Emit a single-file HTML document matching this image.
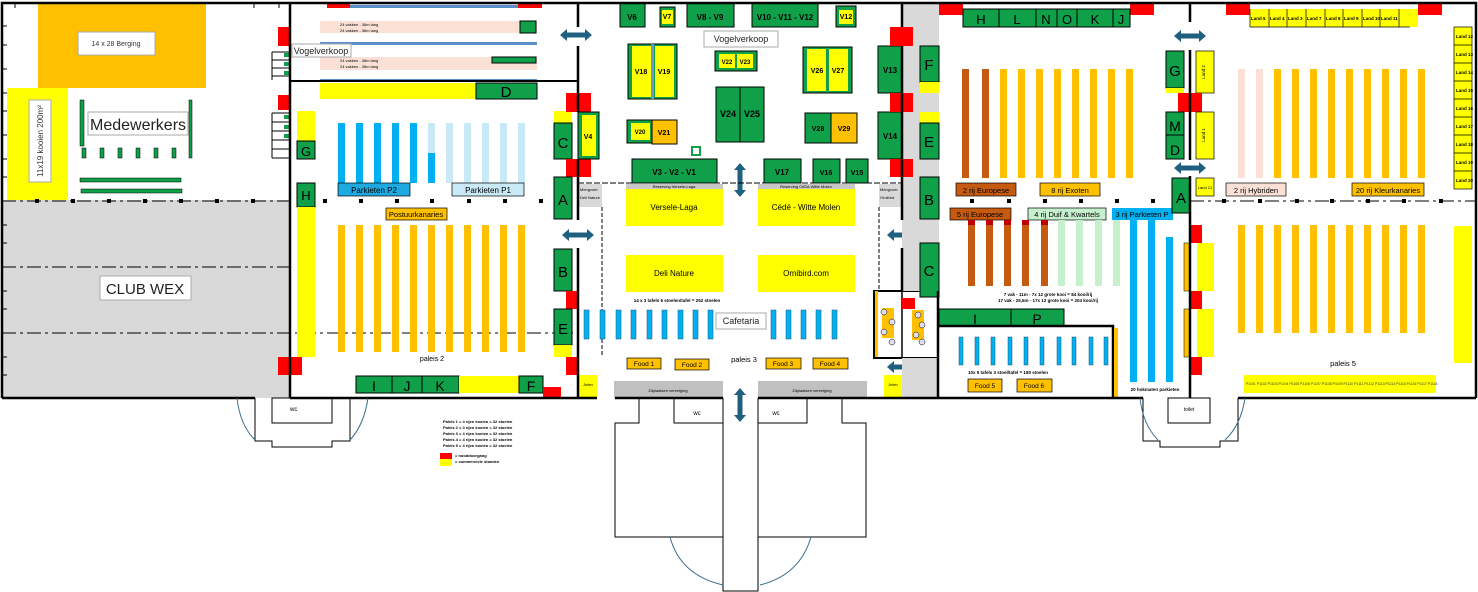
<!DOCTYPE html>
<html><head><meta charset="utf-8"><style>
html,body{margin:0;padding:0;background:#fff;width:1478px;height:592px;overflow:hidden}
svg{display:block}
text{font-family:"Liberation Sans",sans-serif}
.g{fill:#10a04a;stroke:#000;stroke-width:1}
.y{fill:#ffff00}
.o{fill:#ffc000}
.r{fill:#ff0000}
.w{fill:none;stroke:#000;stroke-width:2.5}
.t{fill:none;stroke:#000;stroke-width:1}
.lb{fill:#fff;stroke:#aaa;stroke-width:1}
</style></head><body>
<svg width="1478" height="592" viewBox="0 0 1478 592" xmlns="http://www.w3.org/2000/svg">
<defs>
<polygon id="ah" points="-16,0 -9,-6 -9,-2.5 9,-2.5 9,-6 16,0 9,6 9,2.5 -9,2.5 -9,6" fill="#1f5f7f"/>
<polygon id="av" points="0,-17 -6,-10 -2.5,-10 -2.5,10 -6,10 0,17 6,10 2.5,10 2.5,-10 6,-10" fill="#1f5f7f"/>
</defs>

<!-- LEFT AREA -->
<rect x="38" y="3" width="168" height="85" class="o"/>
<rect x="78" y="32" width="77" height="23" fill="#fff" stroke="#aaa"/>
<text x="116" y="46" font-size="7" text-anchor="middle" fill="#333">14 x 28 Berging</text>
<rect x="7" y="88" width="61" height="112" class="y"/>
<rect x="29" y="100" width="22" height="82" fill="#fff" stroke="#aaa"/>
<text x="43" y="141" font-size="8" text-anchor="middle" transform="rotate(-90 43 141)" fill="#333">11x19  kooien 200m²</text>
<rect x="88" y="112" width="100" height="23" fill="#fff" stroke="#aaa"/>
<text x="138" y="130" font-size="16" text-anchor="middle" fill="#222">Medewerkers</text>
<g fill="#10a04a" stroke="#000" stroke-width=".5">
<rect x="80" y="100" width="4" height="46"/><rect x="189" y="100" width="3" height="58"/>
<rect x="82" y="148" width="4" height="10"/><rect x="100" y="148" width="4" height="10"/><rect x="118" y="148" width="4" height="10"/><rect x="136" y="148" width="4" height="10"/><rect x="154" y="148" width="4" height="10"/><rect x="172" y="148" width="4" height="10"/>
<rect x="80" y="178" width="101" height="4"/><rect x="81" y="189" width="101" height="4"/>
</g>
<rect x="2" y="200" width="288" height="198" fill="#d9d9d9"/>
<rect x="100" y="276" width="91" height="24" fill="#fff" stroke="#aaa"/>
<text x="145" y="294" font-size="15" text-anchor="middle" fill="#222">CLUB WEX</text>
<g stroke="#000" stroke-width="1" stroke-dasharray="14,4,3,4">
<line x1="2" y1="201" x2="290" y2="201"/><line x1="2" y1="267" x2="290" y2="267"/><line x1="2" y1="333" x2="578" y2="333"/>
<line x1="1190" y1="201" x2="1476" y2="201"/>
</g>
<g fill="#000">
<rect x="35" y="199" width="4" height="4"/><rect x="71" y="199" width="4" height="4"/><rect x="107" y="199" width="4" height="4"/><rect x="143" y="199" width="4" height="4"/><rect x="179" y="199" width="4" height="4"/><rect x="215" y="199" width="4" height="4"/><rect x="251" y="199" width="4" height="4"/>
<rect x="323" y="199" width="4" height="4"/><rect x="359" y="199" width="4" height="4"/><rect x="395" y="199" width="4" height="4"/><rect x="430" y="199" width="4" height="4"/><rect x="467" y="199" width="4" height="4"/><rect x="503" y="199" width="4" height="4"/><rect x="539" y="199" width="4" height="4"/>
<rect x="970" y="199" width="4" height="4"/><rect x="1007" y="199" width="4" height="4"/><rect x="1043" y="199" width="4" height="4"/><rect x="1079" y="199" width="4" height="4"/><rect x="1115" y="199" width="4" height="4"/><rect x="1151" y="199" width="4" height="4"/>
<rect x="1222" y="199" width="4" height="4"/><rect x="1258" y="199" width="4" height="4"/><rect x="1295" y="199" width="4" height="4"/><rect x="1330" y="199" width="4" height="4"/><rect x="1366" y="199" width="4" height="4"/><rect x="1402" y="199" width="4" height="4"/><rect x="1439" y="199" width="4" height="4"/>
</g>
<g stroke="#000" stroke-width="1">
<line x1="2" y1="26" x2="7" y2="26"/><line x1="2" y1="45" x2="7" y2="45"/><line x1="2" y1="69" x2="7" y2="69"/><line x1="2" y1="93" x2="7" y2="93"/><line x1="2" y1="111" x2="7" y2="111"/><line x1="2" y1="135" x2="7" y2="135"/><line x1="2" y1="159" x2="7" y2="159"/><line x1="2" y1="177" x2="7" y2="177"/><line x1="2" y1="225" x2="7" y2="225"/><line x1="2" y1="243" x2="7" y2="243"/><line x1="2" y1="291" x2="7" y2="291"/><line x1="2" y1="309" x2="7" y2="309"/><line x1="2" y1="357" x2="7" y2="357"/><line x1="2" y1="375" x2="7" y2="375"/>
<line x1="15" y1="3" x2="15" y2="8"/><line x1="254" y1="3" x2="254" y2="8"/><line x1="279" y1="3" x2="279" y2="8"/>
</g>

<!-- PALACE 2 -->
<rect x="327" y="3" width="23" height="5" class="r"/><rect x="518" y="3" width="24" height="5" class="r"/>
<rect x="350" y="5" width="168" height="3" fill="#5b8fc7"/>
<rect x="320" y="21" width="217" height="12" fill="#fbe0d6"/>
<rect x="320" y="57" width="217" height="13" fill="#fbe0d6"/>
<rect x="320" y="42" width="217" height="3" fill="#5b8fc7"/>
<rect x="320" y="79" width="217" height="3" fill="#5b8fc7"/>
<g font-size="4" fill="#000"><text x="340" y="26">24 vakken - 36m lang</text><text x="340" y="32">24 vakken - 36m lang</text><text x="340" y="62">24 vakken - 36m lang</text><text x="340" y="68">24 vakken - 36m lang</text></g>
<rect x="520" y="21" width="16" height="12" class="g" stroke-width=".5"/>
<rect x="492" y="57" width="44" height="6" class="g" stroke-width=".5"/>
<line x1="290" y1="81" x2="578" y2="81" stroke="#000" stroke-width="2"/>
<rect x="320" y="83" width="156" height="16" class="y"/>
<rect x="476" y="83" width="61" height="16" class="g"/>
<text x="506" y="97" font-size="15" text-anchor="middle">D</text>
<rect x="292" y="44" width="59" height="13" fill="#fff" stroke="#aaa"/>
<text x="321" y="54" font-size="9" text-anchor="middle" fill="#222">Vogelverkoop</text>
<rect x="278" y="27" width="13" height="19" class="r"/><rect x="278" y="95" width="13" height="15" class="r"/>
<g class="t" stroke-width="2">
<path d="M272,52 h18 M272,52 v28 M272,60 h18 M272,68 h18 M272,76 h18"/>
<path d="M272,113 h18 M272,113 v45 M272,122 h18 M272,131 h18 M272,140 h18 M272,149 h18 M272,158 h18"/>
</g>
<g fill="#10a04a"><rect x="284" y="53" width="5" height="4"/><rect x="284" y="62" width="5" height="4"/><rect x="284" y="71" width="5" height="4"/><rect x="284" y="115" width="5" height="4"/><rect x="284" y="125" width="5" height="4"/><rect x="284" y="134" width="5" height="4"/></g>
<rect x="297" y="111" width="18" height="30" class="y"/>
<rect x="297" y="141" width="18" height="18" class="g"/><text x="306" y="156" font-size="13" text-anchor="middle">G</text>
<rect x="297" y="183" width="18" height="24" class="g"/><text x="306" y="200" font-size="13" text-anchor="middle">H</text>
<rect x="297" y="207" width="18" height="150" class="y"/>
<g fill="#00b0f0"><rect x="338" y="123" width="7" height="60"/><rect x="356" y="123" width="7" height="60"/><rect x="374" y="123" width="7" height="60"/><rect x="392" y="123" width="7" height="60"/><rect x="410" y="123" width="7" height="60"/></g>
<g fill="#c9e9f6"><rect x="428" y="123" width="7" height="30"/><rect x="446" y="123" width="7" height="60"/><rect x="464" y="123" width="7" height="60"/><rect x="482" y="123" width="7" height="60"/><rect x="500" y="123" width="7" height="60"/><rect x="518" y="123" width="7" height="60"/></g>
<rect x="428" y="153" width="7" height="30" fill="#00b0f0"/>
<rect x="338" y="183" width="72" height="13" fill="#1fa9e1" stroke="#000" stroke-width=".7"/><text x="374" y="193" font-size="8" text-anchor="middle">Parkieten P2</text>
<rect x="452" y="183" width="72" height="13" fill="#c9e9f6" stroke="#000" stroke-width=".7"/><text x="488" y="193" font-size="8" text-anchor="middle">Parkieten P1</text>
<rect x="386" y="208" width="61" height="12" class="o" stroke="#000" stroke-width=".7"/><text x="416" y="217" font-size="7.5" text-anchor="middle">Postuurkanaries</text>
<g class="o"><rect x="338" y="225" width="7" height="127"/><rect x="356" y="225" width="7" height="127"/><rect x="374" y="225" width="7" height="127"/><rect x="392" y="225" width="7" height="127"/><rect x="410" y="225" width="7" height="127"/><rect x="428" y="225" width="7" height="127"/><rect x="446" y="225" width="7" height="127"/><rect x="464" y="225" width="7" height="127"/><rect x="482" y="225" width="7" height="127"/><rect x="500" y="225" width="7" height="127"/><rect x="518" y="225" width="7" height="127"/></g>
<text x="432" y="361" font-size="7" text-anchor="middle">paleis 2</text>
<rect x="278" y="357" width="24" height="18" class="r"/>
<rect x="356" y="376" width="103" height="17" class="g"/>
<line x1="392" y1="376" x2="392" y2="393" stroke="#000"/><line x1="422" y1="376" x2="422" y2="393" stroke="#000"/>
<g font-size="14" text-anchor="middle"><text x="374" y="391">I</text><text x="407" y="391">J</text><text x="440" y="391">K</text></g>
<rect x="459" y="376" width="60" height="17" class="y"/>
<rect x="519" y="376" width="24" height="17" class="g"/><text x="531" y="391" font-size="14" text-anchor="middle">F</text>
<rect x="543" y="387" width="18" height="11" class="r"/>

<!-- palace2 right wall items -->
<rect x="554" y="111" width="18" height="12" class="y"/>
<rect x="554" y="123" width="18" height="36" class="g"/><text x="563" y="148" font-size="15" text-anchor="middle">C</text>
<rect x="566" y="93" width="25" height="19" class="r"/><rect x="566" y="159" width="25" height="18" class="r"/>
<rect x="578" y="112" width="21" height="47" class="g"/><rect x="582" y="115" width="14" height="41" class="y"/><text x="588" y="139" font-size="7" text-anchor="middle" font-weight="bold">V4</text>
<rect x="554" y="177" width="18" height="42" class="g"/><text x="563" y="205" font-size="15" text-anchor="middle">A</text>
<rect x="554" y="249" width="18" height="42" class="g"/><text x="563" y="277" font-size="15" text-anchor="middle">B</text>
<rect x="566" y="291" width="13" height="18" class="r"/>
<rect x="554" y="309" width="18" height="36" class="g"/><text x="563" y="334" font-size="15" text-anchor="middle">E</text>
<rect x="554" y="345" width="18" height="12" class="y"/>
<rect x="566" y="357" width="13" height="18" class="r"/>
<use href="#ah" x="576" y="35"/><use href="#ah" x="578" y="235"/>

<!-- PALACE 3 -->
<rect x="620" y="3" width="25" height="24" class="g"/><text x="632" y="20" font-size="8" text-anchor="middle" font-weight="bold">V6</text>
<rect x="660" y="7" width="15" height="20" class="g"/><rect x="662" y="10" width="11" height="14" class="y"/><text x="667" y="19" font-size="7" text-anchor="middle" font-weight="bold">V7</text>
<rect x="687" y="3" width="47" height="24" class="g"/><text x="710" y="20" font-size="8" text-anchor="middle" font-weight="bold">V8 - V9</text>
<rect x="752" y="3" width="66" height="24" class="g"/><text x="785" y="20" font-size="8" text-anchor="middle" font-weight="bold">V10 - V11 - V12</text>
<rect x="836" y="6" width="20" height="21" class="g"/><rect x="839" y="10" width="14" height="14" class="y"/><text x="846" y="19" font-size="7" text-anchor="middle" font-weight="bold">V12</text>
<rect x="704" y="31" width="74" height="16" fill="#fff" stroke="#aaa"/><text x="741" y="42" font-size="9" text-anchor="middle" fill="#222">Vogelverkoop</text>
<rect x="628" y="44" width="49" height="55" class="g"/><rect x="632" y="46" width="19" height="51" class="y"/><rect x="655" y="46" width="19" height="51" class="y"/><rect x="651" y="44" width="3" height="55" fill="#6a96c8"/>
<text x="641" y="74" font-size="7" text-anchor="middle" font-weight="bold">V18</text><text x="664" y="74" font-size="7" text-anchor="middle" font-weight="bold">V19</text>
<rect x="715" y="51" width="42" height="20" class="g"/><rect x="719" y="54" width="16" height="14" class="y"/><rect x="737" y="54" width="16" height="14" class="y"/>
<text x="727" y="64" font-size="6" text-anchor="middle" font-weight="bold">V22</text><text x="745" y="64" font-size="6" text-anchor="middle" font-weight="bold">V23</text>
<rect x="803" y="47" width="49" height="46" class="g"/><rect x="807" y="49" width="19" height="42" class="y"/><rect x="829" y="49" width="19" height="42" class="y"/>
<text x="817" y="73" font-size="7" text-anchor="middle" font-weight="bold">V26</text><text x="838" y="73" font-size="7" text-anchor="middle" font-weight="bold">V27</text>
<rect x="716" y="87" width="24" height="55" class="g"/><rect x="740" y="87" width="24" height="55" class="g"/>
<text x="728" y="117" font-size="9" text-anchor="middle" font-weight="bold">V24</text><text x="752" y="117" font-size="9" text-anchor="middle" font-weight="bold">V25</text>
<rect x="627" y="120" width="25" height="23" class="g"/><rect x="631" y="123" width="19" height="17" class="y"/><text x="640" y="134" font-size="6" text-anchor="middle" font-weight="bold">V20</text>
<rect x="652" y="120" width="25" height="24" class="o" stroke="#000"/><text x="664" y="135" font-size="7" text-anchor="middle" font-weight="bold">V21</text>
<rect x="805" y="113" width="26" height="30" class="g"/><text x="818" y="131" font-size="7" text-anchor="middle" font-weight="bold">V28</text>
<rect x="831" y="113" width="26" height="30" class="o" stroke="#000"/><text x="844" y="131" font-size="7" text-anchor="middle" font-weight="bold">V29</text>
<rect x="692" y="147" width="8" height="8" fill="none" stroke="#10a04a" stroke-width="2"/>
<rect x="878" y="46" width="24" height="47" class="g"/><text x="890" y="73" font-size="8" text-anchor="middle" font-weight="bold">V13</text>
<rect x="878" y="112" width="24" height="47" class="g"/><text x="890" y="139" font-size="8" text-anchor="middle" font-weight="bold">V14</text>
<rect x="632" y="159" width="85" height="24" class="g"/><text x="674" y="175" font-size="8" text-anchor="middle" font-weight="bold">V3 - V2 - V1</text>
<rect x="764" y="159" width="37" height="24" class="g"/><text x="782" y="175" font-size="8" text-anchor="middle" font-weight="bold">V17</text>
<rect x="813" y="159" width="27" height="24" class="g"/><text x="826" y="175" font-size="7" text-anchor="middle" font-weight="bold">V16</text>
<rect x="846" y="159" width="22" height="24" class="g"/><text x="857" y="175" font-size="7" text-anchor="middle" font-weight="bold">V15</text>
<use href="#av" x="740" y="180"/>
<line x1="578" y1="183" x2="902" y2="183" stroke="#000" stroke-width="1" stroke-dasharray="6,2"/>
<rect x="626" y="184" width="97" height="5" fill="#c8c8c8"/><rect x="758" y="184" width="97" height="5" fill="#c8c8c8"/>
<text x="674" y="188" font-size="4" text-anchor="middle">Reserving Versele-Laga</text><text x="806" y="188" font-size="4" text-anchor="middle">Reserving CéDé-Witte Molen</text>
<rect x="626" y="189" width="97" height="37" class="y"/><text x="674" y="210" font-size="8" text-anchor="middle">Versele-Laga</text>
<rect x="758" y="189" width="97" height="37" class="y"/><text x="806" y="210" font-size="8" text-anchor="middle">Cédé - Witte Molen</text>
<rect x="626" y="255" width="97" height="37" class="y"/><text x="674" y="276" font-size="8" text-anchor="middle">Deli Nature</text>
<rect x="758" y="255" width="97" height="37" class="y"/><text x="806" y="276" font-size="8" text-anchor="middle">Ornibird.com</text>
<rect x="578" y="184" width="24" height="23" fill="#d9d9d9"/><text x="580" y="191" font-size="4">Mengvoer</text><text x="580" y="199" font-size="4">Deli Nature</text>
<rect x="879" y="184" width="23" height="23" fill="#d9d9d9"/><text x="880" y="191" font-size="4">Mengvoer</text><text x="880" y="199" font-size="4">Ornibird</text>
<g stroke="#000" stroke-dasharray="4,2"><line x1="602" y1="207" x2="602" y2="357"/><line x1="879" y1="207" x2="879" y2="290"/></g>
<use href="#ah" x="903" y="235"/>
<text x="677" y="302" font-size="4.5" text-anchor="middle" font-weight="bold">14 x 3 tafels 6 stoelen/tafel = 252 stoelen</text>
<g fill="#00b0f0" stroke="#1f4e79" stroke-width=".5"><rect x="584" y="310" width="5" height="29"/><rect x="600" y="310" width="5" height="29"/><rect x="616" y="310" width="5" height="29"/><rect x="631" y="310" width="5" height="29"/><rect x="647" y="310" width="5" height="29"/><rect x="662" y="310" width="5" height="29"/><rect x="678" y="310" width="5" height="29"/><rect x="693" y="310" width="5" height="29"/><rect x="708" y="310" width="5" height="29"/><rect x="771" y="310" width="5" height="29"/><rect x="786" y="310" width="5" height="29"/><rect x="801" y="310" width="5" height="29"/><rect x="816" y="310" width="5" height="29"/><rect x="832" y="310" width="5" height="29"/></g>
<rect x="716" y="313" width="50" height="16" fill="#fff" stroke="#aaa"/><text x="741" y="324" font-size="9" text-anchor="middle" fill="#222">Cafetaria</text>
<text x="744" y="362" font-size="7.5" text-anchor="middle">paleis 3</text>
<g stroke="#000" stroke-width=".7" class="o"><rect x="627" y="358" width="34" height="11"/><rect x="675" y="359" width="34" height="11"/><rect x="766" y="358" width="35" height="11"/><rect x="813" y="358" width="35" height="11"/></g>
<g font-size="6.5" text-anchor="middle"><text x="644" y="366">Food 1</text><text x="692" y="367">Food 2</text><text x="783" y="366">Food 3</text><text x="830" y="366">Food 4</text></g>
<rect x="614" y="381" width="109" height="17" fill="#c0c0c0"/><rect x="758" y="381" width="109" height="17" fill="#c0c0c0"/>
<text x="668" y="392" font-size="4" text-anchor="middle">Zitplaatsen vereniging</text><text x="812" y="392" font-size="4" text-anchor="middle">Zitplaatsen vereniging</text>
<rect x="579" y="375" width="18" height="23" class="y"/><text x="588" y="386" font-size="4" text-anchor="middle">Jelen</text>
<rect x="884" y="375" width="18" height="23" class="y"/><text x="893" y="386" font-size="4" text-anchor="middle">Jelen</text>
<use href="#ah" x="903" y="367"/>
<!-- cafe box -->
<rect x="874" y="291" width="64" height="67" fill="#fff" stroke="#000" stroke-width="2"/>
<line x1="902" y1="291" x2="902" y2="358" stroke="#000" stroke-width="1.5"/>
<rect x="875" y="291" width="3" height="66" class="o"/>
<g class="o"><rect x="882" y="308" width="12" height="30"/><rect x="912" y="310" width="12" height="30"/></g>
<g fill="#dde" stroke="#000" stroke-width=".5"><circle cx="884" cy="312" r="3"/><circle cx="892" cy="322" r="3"/><circle cx="884" cy="332" r="3"/><circle cx="892" cy="342" r="3"/><circle cx="918" cy="315" r="3"/><circle cx="922" cy="325" r="3"/><circle cx="916" cy="335" r="3"/><circle cx="922" cy="342" r="3"/></g>
<rect x="902" y="298" width="13" height="11" class="r"/>

<!-- gray corridor palace3/4 -->
<rect x="902" y="3" width="37" height="288" fill="#d9d9d9"/>
<rect x="902" y="358" width="37" height="40" fill="#d9d9d9"/>
<rect x="890" y="27" width="23" height="19" class="r"/><rect x="890" y="93" width="23" height="19" class="r"/><rect x="890" y="159" width="23" height="18" class="r"/>
<rect x="920" y="46" width="19" height="36" class="g"/><text x="929" y="70" font-size="15" text-anchor="middle">F</text>
<rect x="920" y="82" width="19" height="11" class="y"/><rect x="920" y="112" width="19" height="11" class="y"/>
<rect x="920" y="123" width="19" height="36" class="g"/><text x="929" y="147" font-size="15" text-anchor="middle">E</text>
<rect x="920" y="177" width="19" height="42" class="g"/><text x="929" y="205" font-size="15" text-anchor="middle">B</text>
<rect x="920" y="243" width="19" height="54" class="g"/><text x="929" y="276" font-size="15" text-anchor="middle">C</text>

<!-- PALACE 4 -->
<rect x="939" y="3" width="24" height="12" class="r"/><rect x="1130" y="3" width="24" height="12" class="r"/>
<rect x="963" y="9" width="167" height="18" class="g"/>
<g stroke="#000"><line x1="999" y1="9" x2="999" y2="27"/><line x1="1036" y1="9" x2="1036" y2="27"/><line x1="1057" y1="9" x2="1057" y2="27"/><line x1="1077" y1="9" x2="1077" y2="27"/><line x1="1113" y1="9" x2="1113" y2="27"/></g>
<g font-size="13" text-anchor="middle"><text x="981" y="24">H</text><text x="1017" y="24">L</text><text x="1046" y="24">N</text><text x="1067" y="24">O</text><text x="1095" y="24">K</text><text x="1121" y="24">J</text></g>
<g fill="#c55a11"><rect x="962" y="69" width="7" height="109"/><rect x="982" y="69" width="7" height="109"/></g>
<g class="o"><rect x="1000" y="69" width="7" height="109"/><rect x="1018" y="69" width="7" height="109"/><rect x="1036" y="69" width="7" height="109"/><rect x="1054" y="69" width="7" height="109"/><rect x="1072" y="69" width="7" height="109"/><rect x="1090" y="69" width="7" height="109"/><rect x="1108" y="69" width="7" height="109"/><rect x="1126" y="69" width="7" height="109"/></g>
<rect x="956" y="183" width="60" height="13" fill="#c55a11" stroke="#000" stroke-width=".7"/><text x="986" y="193" font-size="7.5" text-anchor="middle">2 rij Europese</text>
<rect x="1040" y="183" width="60" height="13" class="o" stroke="#000" stroke-width=".7"/><text x="1070" y="193" font-size="7.5" text-anchor="middle">8 rij Exoten</text>
<rect x="950" y="208" width="61" height="12" fill="#c55a11" stroke="#000" stroke-width=".7"/><text x="980" y="217" font-size="7.5" text-anchor="middle">5 rij Europese</text>
<rect x="1028" y="208" width="78" height="12" fill="#c6efce" stroke="#000" stroke-width=".7"/><text x="1067" y="217" font-size="7.5" text-anchor="middle">4 rij Duif &amp; Kwartels</text>
<rect x="1112" y="208" width="61" height="12" fill="#00b0f0"/><text x="1142" y="217" font-size="7.5" text-anchor="middle">3 rij Parkieten P</text>
<g fill="#c55a11"><rect x="968" y="220" width="7" height="66"/><rect x="986" y="220" width="7" height="66"/><rect x="1004" y="220" width="7" height="66"/><rect x="1022" y="220" width="7" height="66"/><rect x="1041" y="220" width="7" height="66"/></g>
<g fill="#c00000"><rect x="968" y="220" width="7" height="5"/><rect x="986" y="220" width="7" height="5"/><rect x="1004" y="220" width="7" height="5"/><rect x="1022" y="220" width="7" height="5"/><rect x="1041" y="220" width="7" height="5"/></g>
<g fill="#c6efce"><rect x="1058" y="220" width="7" height="66"/><rect x="1076" y="220" width="7" height="66"/><rect x="1095" y="220" width="7" height="66"/><rect x="1113" y="220" width="7" height="66"/></g>
<g fill="#00b0f0"><rect x="1130" y="220" width="7" height="162"/><rect x="1148" y="220" width="7" height="162"/><rect x="1166" y="237" width="7" height="145"/></g>
<text x="1048" y="296" font-size="4.5" text-anchor="middle" font-weight="bold">7 vak - 11m - 7x 12 grote kooi = 84 kooi/rij</text>
<text x="1048" y="302" font-size="4.5" text-anchor="middle" font-weight="bold">17 vak - 25,5m - 17x 12 grote kooi = 204 kooi/rij</text>
<rect x="939" y="309" width="125" height="17" class="g"/><line x1="1011" y1="309" x2="1011" y2="326" stroke="#000"/>
<text x="975" y="324" font-size="14" text-anchor="middle">I</text><text x="1037" y="324" font-size="14" text-anchor="middle">P</text>
<path d="M939,326 H1113 V398" class="w"/>
<rect x="1114" y="328" width="4" height="70" class="o"/>
<g fill="#00b0f0" stroke="#1f4e79" stroke-width=".5"><rect x="959" y="337" width="4" height="28"/><rect x="975" y="337" width="4" height="28"/><rect x="991" y="337" width="4" height="28"/><rect x="1008" y="337" width="4" height="28"/><rect x="1024" y="337" width="4" height="28"/><rect x="1040" y="337" width="4" height="28"/><rect x="1057" y="337" width="4" height="28"/><rect x="1072" y="337" width="4" height="28"/><rect x="1089" y="337" width="4" height="28"/><rect x="1104" y="337" width="4" height="28"/></g>
<text x="1008" y="374" font-size="4.5" text-anchor="middle" font-weight="bold">10x 5 tafels 3 stoel/tafel = 180 stoelen</text>
<g stroke="#000" stroke-width=".7" class="o"><rect x="968" y="379" width="34" height="13"/><rect x="1017" y="379" width="35" height="13"/></g>
<text x="985" y="388" font-size="6.5" text-anchor="middle">Food 5</text><text x="1034" y="388" font-size="6.5" text-anchor="middle">Food 6</text>
<text x="1155" y="391" font-size="4.5" text-anchor="middle" font-weight="bold">20 hokmaten parkieten</text>
<!-- palace 4/5 wall -->
<rect x="1166" y="51" width="18" height="37" class="g"/><text x="1175" y="76" font-size="15" text-anchor="middle">G</text>
<rect x="1166" y="88" width="18" height="5" class="y"/>
<rect x="1196" y="51" width="18" height="42" class="y" stroke="#000" stroke-width=".7"/><text x="1205" y="72" font-size="4.5" text-anchor="middle" transform="rotate(-90 1205 72)">Land 2</text>
<rect x="1178" y="93" width="24" height="19" class="r"/>
<rect x="1166" y="112" width="18" height="47" class="g"/><line x1="1166" y1="135" x2="1184" y2="135" stroke="#000"/>
<text x="1175" y="131" font-size="14" text-anchor="middle">M</text><text x="1175" y="155" font-size="14" text-anchor="middle">D</text>
<rect x="1196" y="112" width="18" height="47" class="y" stroke="#000" stroke-width=".7"/><text x="1205" y="135" font-size="4.5" text-anchor="middle" transform="rotate(-90 1205 135)">Land 1</text>
<use href="#ah" x="1190" y="36"/><use href="#ah" x="1190" y="168"/>
<rect x="1172" y="178" width="18" height="35" class="g"/><text x="1181" y="203" font-size="15" text-anchor="middle">A</text>
<rect x="1196" y="178" width="18" height="18" class="y" stroke="#000" stroke-width=".7"/><text x="1205" y="189" font-size="4" text-anchor="middle">Land 21</text>
<rect x="1190" y="225" width="12" height="18" class="r"/><rect x="1190" y="291" width="12" height="18" class="r"/><rect x="1190" y="357" width="12" height="18" class="r"/>
<rect x="1197" y="243" width="17" height="48" class="y"/><rect x="1197" y="309" width="17" height="48" class="y"/>
<rect x="1184" y="243" width="6" height="48" class="o" stroke="#000" stroke-width=".5"/><rect x="1184" y="309" width="6" height="48" class="o" stroke="#000" stroke-width=".5"/>

<!-- PALACE 5 -->
<rect x="1226" y="3" width="24" height="12" class="r"/><rect x="1418" y="3" width="24" height="12" class="r"/>
<rect x="1250" y="9" width="168" height="18" class="y"/>
<g stroke="#000" stroke-width=".7"><line x1="1250" y1="9" x2="1250" y2="27"/><line x1="1269" y1="9" x2="1269" y2="27"/><line x1="1287" y1="9" x2="1287" y2="27"/><line x1="1306" y1="9" x2="1306" y2="27"/><line x1="1325" y1="9" x2="1325" y2="27"/><line x1="1343" y1="9" x2="1343" y2="27"/><line x1="1362" y1="9" x2="1362" y2="27"/><line x1="1380" y1="9" x2="1380" y2="27"/><line x1="1399" y1="9" x2="1399" y2="27"/><line x1="1250" y1="27" x2="1410" y2="27"/></g>
<g font-size="4.5" font-weight="bold"><text x="1251" y="20">Land 5</text><text x="1270" y="20">Land 4</text><text x="1288" y="20">Land 3</text><text x="1307" y="20">Land 7</text><text x="1326" y="20">Land 8</text><text x="1344" y="20">Land 9</text><text x="1363" y="20">Land 10</text><text x="1381" y="20">Land 11</text></g>
<rect x="1454" y="27" width="18" height="162" class="y" stroke="#000" stroke-width=".7"/>
<g stroke="#000" stroke-width=".7"><line x1="1454" y1="45" x2="1472" y2="45"/><line x1="1454" y1="63" x2="1472" y2="63"/><line x1="1454" y1="81" x2="1472" y2="81"/><line x1="1454" y1="99" x2="1472" y2="99"/><line x1="1454" y1="117" x2="1472" y2="117"/><line x1="1454" y1="135" x2="1472" y2="135"/><line x1="1454" y1="153" x2="1472" y2="153"/><line x1="1454" y1="171" x2="1472" y2="171"/></g>
<g font-size="4.5" font-weight="bold"><text x="1456" y="38">Land 12</text><text x="1456" y="56">Land 13</text><text x="1456" y="74">Land 14</text><text x="1456" y="92">Land 15</text><text x="1456" y="110">Land 16</text><text x="1456" y="128">Land 17</text><text x="1456" y="146">Land 18</text><text x="1456" y="164">Land 19</text><text x="1456" y="182">Land 20</text></g>
<g fill="#fbe0d6"><rect x="1238" y="69" width="7" height="109"/><rect x="1256" y="69" width="7" height="109"/></g>
<g class="o"><rect x="1274" y="69" width="7" height="109"/><rect x="1292" y="69" width="7" height="109"/><rect x="1310" y="69" width="7" height="109"/><rect x="1328" y="69" width="7" height="109"/><rect x="1346" y="69" width="7" height="109"/><rect x="1364" y="69" width="7" height="109"/><rect x="1382" y="69" width="7" height="109"/><rect x="1400" y="69" width="7" height="109"/><rect x="1418" y="69" width="7" height="109"/></g>
<rect x="1226" y="183" width="60" height="13" fill="#fbe0d6" stroke="#000" stroke-width=".7"/><text x="1256" y="193" font-size="7.5" text-anchor="middle">2 rij Hybriden</text>
<rect x="1352" y="183" width="72" height="13" class="o" stroke="#000" stroke-width=".7"/><text x="1388" y="193" font-size="7.5" text-anchor="middle">20 rij Kleurkanaries</text>
<g class="o"><rect x="1238" y="225" width="7" height="108"/><rect x="1256" y="225" width="7" height="108"/><rect x="1274" y="225" width="7" height="108"/><rect x="1292" y="225" width="7" height="108"/><rect x="1310" y="225" width="7" height="108"/><rect x="1328" y="225" width="7" height="108"/><rect x="1346" y="225" width="7" height="108"/><rect x="1364" y="225" width="7" height="108"/><rect x="1382" y="225" width="7" height="108"/><rect x="1400" y="225" width="7" height="108"/><rect x="1418" y="225" width="7" height="108"/></g>
<rect x="1454" y="226" width="18" height="137" class="y"/>
<text x="1343" y="366" font-size="7.5" text-anchor="middle">paleis 5</text>
<rect x="1244" y="375" width="192" height="18" class="y"/>
<g font-size="3.5" fill="#333"><text x="1246" y="385">P1101 P1102 P1103 P1104 P1105 P1106 P1107 P1108 P1109 P1110 P1111 P1112 P1113 P1114 P1115 P1116 P1117 P1118</text></g>

<!-- WALLS -->
<path d="M2,398 V3 H1476 V398" class="w"/>
<line x1="290" y1="3" x2="290" y2="398" stroke="#000" stroke-width="2.5"/>
<path d="M578,3 V27 M578,46 V112 M578,159 V220 M578,248 V398" class="w"/>
<path d="M902,3 V27 M902,46 V220 M902,248 V291 M938,291 V398" class="w"/>
<path d="M1190,3 V22 M1190,50 V160 M1190,176 V398" class="w"/>
<path d="M2,398 H255 M290,398 H597 M615,398 H723 M758,398 H1143 M1238,398 H1476" class="w"/>

<!-- BOTTOM -->
<g class="t">
<path d="M255,398 V441 H272 V447 H332 V441 H350 V398"/>
<rect x="272" y="398" width="60" height="25"/>
<path d="M1143,398 V441 H1160 V447 H1220 V441 H1238 V398"/>
<rect x="1168" y="398" width="42" height="25"/>
<path d="M639,398 V423 H615 V537 H723 M674,398 V423 H723"/>
<path d="M842,398 V423 H866 V537 H758 M758,423 H807 V398"/>
<path d="M723,398 V591 H758 V398"/>
</g>
<g fill="none" stroke="#3a6f8f" stroke-width="1"><path d="M237,398 Q240,425 255,440"/><path d="M368,398 Q364,425 350,440"/><path d="M1140,398 Q1143,425 1158,440"/><path d="M1245,398 Q1241,425 1225,440"/><path d="M670,537 Q680,575 723,585"/><path d="M811,537 Q800,575 760,585"/></g>
<text x="290" y="411" font-size="6">wc</text><text x="697" y="415" font-size="6" text-anchor="middle">wc</text><text x="776" y="415" font-size="6" text-anchor="middle">wc</text><text x="1189" y="411" font-size="5" text-anchor="middle">toilet</text>
<use href="#av" x="740" y="405"/>
<g font-size="4" font-weight="bold"><text x="443" y="423">Paleis 1 = 4 rijen kooien = 32 stoelen</text><text x="443" y="429">Paleis 2 = 4 rijen kooien = 32 stoelen</text><text x="443" y="435">Paleis 3 = 4 rijen kooien = 32 stoelen</text><text x="443" y="441">Paleis 4 = 4 rijen kooien = 32 stoelen</text><text x="443" y="447">Paleis 5 = 4 rijen kooien = 32 stoelen</text>
<text x="455" y="457">= nooddoorgang</text><text x="455" y="463">= commerciele standen</text></g>
<rect x="440" y="453" width="12" height="6" class="r"/><rect x="440" y="459" width="12" height="7" class="y"/>
</svg>
</body></html>
